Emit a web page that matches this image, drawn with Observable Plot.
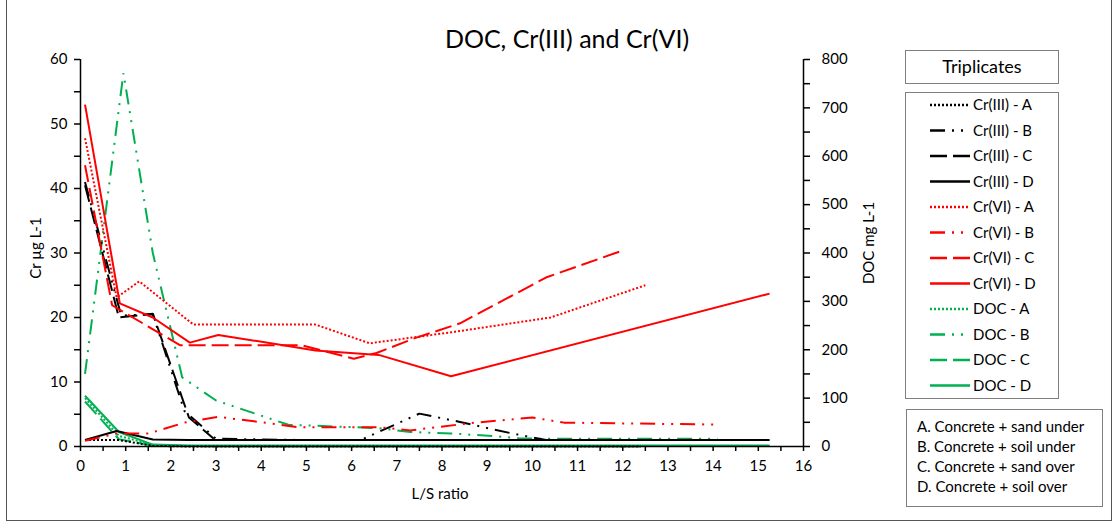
<!DOCTYPE html>
<html>
<head>
<meta charset="utf-8">
<script src="https://cdn.jsdelivr.net/npm/d3@7"></script>
<script src="https://cdn.jsdelivr.net/npm/@observablehq/plot@0.6"></script>
<style>
  body { margin: 0; background: #fff; }
  #wrap { position: relative; width: 1116px; height: 526px; font-family: Lato, "Noto Sans", sans-serif; color: #000; overflow: hidden; }
  #chart { position: absolute; left: 0; top: 0; }
  .abs { position: absolute; white-space: nowrap; }
  .box { position: absolute; border: 1.5px solid #7f7f7f; box-sizing: border-box; background: #fff; }
</style>
</head>
<body>
<div id="wrap">
  <div class="abs" style="left:6px;top:0;width:1106px;height:521px;border-left:1px solid #555;border-right:1px solid #555;border-bottom:1px solid #555;box-sizing:border-box;"></div>
  <div id="chart"></div>
  <div class="abs" id="title" style="left:367px;width:400px;top:23px;text-align:center;font-size:25px;">DOC, Cr(III) and Cr(VI)</div>
  <div class="abs" style="left:35px;top:248px;font-size:15px;transform:translate(-50%,-50%) rotate(-90deg);">Cr µg L-1</div>
  <div class="abs" style="left:868px;top:243px;font-size:15px;transform:translate(-50%,-50%) rotate(-90deg);">DOC mg L-1</div>
  <div class="abs" style="left:440px;top:493px;font-size:15px;transform:translate(-50%,-50%);">L/S ratio</div>
  <div class="box" style="left:905px;top:50px;width:154px;height:34px;text-align:center;font-size:18px;line-height:31px;">Triplicates</div>
  <div class="box" id="legbox" style="left:905px;top:92px;width:154px;height:307px;"></div>
  <div class="box" style="left:906px;top:409px;width:197px;height:98px;font-size:15px;">
    <div class="abs" style="left:10px;top:6px;line-height:20px;">A. Concrete + sand under<br>B. Concrete + soil under<br>C. Concrete + sand over<br>D. Concrete + soil over</div>
  </div>
</div>
<script>
// ---- data (L/S ratio, Cr in µg/L, DOC in mg/L) ----
const seriesNames = ["Cr(III) - A","Cr(III) - B","Cr(III) - C","Cr(III) - D","Cr(VI) - A","Cr(VI) - B","Cr(VI) - C","Cr(VI) - D","DOC - A","DOC - B","DOC - C","DOC - D"];

const lsCr3A = [0.1, 0.85, 1.6, 2.4, 3.0, 5.0, 6.5, 8.2, 10.3, 12.4];
const cr3A   = [1.0, 1.0, 0.1, 0.0, 0.0, 0.0, 0.0, 0.0, 0.0, 0.0];
const lsCr3B = [0.1, 0.9, 1.6, 2.3, 3.0, 5.0, 6.2, 7.5, 8.4, 9.5, 10.3, 12.3, 14.2];
const cr3B   = [41.0, 20.3, 20.5, 5.5, 1.2, 1.0, 1.0, 5.1, 3.8, 2.1, 1.0, 1.0, 1.0];
const lsCr3C = [0.1, 0.85, 1.6, 2.4, 2.95];
const cr3C   = [40.5, 20.0, 20.6, 4.5, 1.2];
const lsCr3D = [0.1, 0.8, 1.6, 2.4, 3.0, 5.0, 6.5, 8.2, 10.3, 12.3, 14.2, 15.25];
const cr3D   = [1.0, 2.4, 1.1, 1.0, 1.0, 1.0, 1.0, 1.0, 1.0, 1.0, 1.0, 1.0];

const lsCr6A = [0.1, 0.8, 1.3, 2.5, 5.2, 6.4, 8.2, 10.4, 12.5];
const cr6A   = [47.8, 23.1, 25.6, 18.9, 18.9, 16.0, 17.7, 20.0, 25.0];
const lsCr6B = [0.1, 0.8, 1.5, 2.3, 3.05, 4.3, 4.8, 6.6, 7.3, 8.6, 10.0, 10.7, 12.9, 14.15];
const cr6B   = [0.9, 2.0, 2.0, 3.7, 4.6, 3.5, 3.0, 3.0, 2.5, 3.6, 4.5, 3.7, 3.5, 3.4];
const lsCr6C = [0.1, 0.7, 2.2, 4.9, 6.05, 6.55, 7.4, 8.4, 10.3, 12.0];
const cr6C   = [43.6, 21.9, 15.7, 15.7, 13.6, 14.5, 16.8, 19.1, 26.2, 30.4];
const lsCr6D = [0.1, 0.87, 1.6, 2.42, 3.05, 5.2, 6.6, 8.2, 15.25];
const cr6D   = [53.0, 22.2, 20.0, 16.1, 17.3, 14.9, 14.2, 10.9, 23.7];

const lsDocA = [0.1, 0.85, 1.6, 2.4, 3.0, 5.0, 6.5, 8.2, 10.3, 12.4];
const docA   = [100, 22, 3, 1, 0.5, 0, 0, 0, 0, 0];
const lsDocB = [0.1, 0.95, 1.6, 2.25, 3.0, 4.6, 6.6, 7.3, 8.2, 9.2, 9.7, 10.3, 12.2, 14.1];
const docB   = [150, 772, 400, 143, 95, 45, 38, 30, 27, 21, 17, 16, 16, 16];
const lsDocC = [0.1, 0.85, 1.6, 2.4, 3.0, 5.0, 6.5, 8.2, 10.3, 12.3, 14.2];
const docC   = [93, 15, 2, 1, 1, 1, 1, 1, 1, 1, 1];
const lsDocD = [0.1, 0.85, 1.6, 2.4, 3.0, 5.0, 6.5, 8.2, 10.3, 12.3, 14.2, 15.25];
const docD   = [105, 30, 4, 2, 2, 2, 2, 2, 2, 2, 2, 2];

const leftTicks = [0, 10, 20, 30, 40, 50, 60];
const rightTicks = [0, 100, 200, 300, 400, 500, 600, 700, 800];
const xTicks = [0,1,2,3,4,5,6,7,8,9,10,11,12,13,14,15,16];

// ---- styles ----
const BLACK = "#000000", RED = "#ff0000", GREEN = "#00b050";
const DASH = {A: "2 2", B: "15 7 2 7 2 7", C: "17 6", D: null};
const docToCr = 60 / 800;

const series = [
  {name: seriesNames[0], ls: lsCr3A, v: cr3A, color: BLACK, dash: DASH.A, k: 1},
  {name: seriesNames[1], ls: lsCr3B, v: cr3B, color: BLACK, dash: DASH.B, k: 1},
  {name: seriesNames[2], ls: lsCr3C, v: cr3C, color: BLACK, dash: DASH.C, k: 1},
  {name: seriesNames[3], ls: lsCr3D, v: cr3D, color: BLACK, dash: DASH.D, k: 1},
  {name: seriesNames[4], ls: lsCr6A, v: cr6A, color: RED, dash: DASH.A, k: 1},
  {name: seriesNames[5], ls: lsCr6B, v: cr6B, color: RED, dash: DASH.B, k: 1},
  {name: seriesNames[6], ls: lsCr6C, v: cr6C, color: RED, dash: DASH.C, k: 1},
  {name: seriesNames[7], ls: lsCr6D, v: cr6D, color: RED, dash: DASH.D, k: 1},
  {name: seriesNames[8], ls: lsDocA, v: docA, color: GREEN, dash: DASH.A, k: docToCr},
  {name: seriesNames[9], ls: lsDocB, v: docB, color: GREEN, dash: DASH.B, k: docToCr},
  {name: seriesNames[10], ls: lsDocC, v: docC, color: GREEN, dash: DASH.C, k: docToCr},
  {name: seriesNames[11], ls: lsDocD, v: docD, color: GREEN, dash: DASH.D, k: docToCr}
];

// draw order: DOC first (behind), then Cr(III), then Cr(VI)
const order = [11, 10, 8, 9, 3, 0, 2, 1, 5, 4, 6, 7];

const lineMarks = order.map(i => {
  const s = series[i];
  const rows = s.ls.map((x, j) => ({x, y: s.v[j] * s.k}));
  const opts = {x: "x", y: "y", stroke: s.color, strokeWidth: 2, curve: "linear",
    strokeLinecap: "butt", strokeLinejoin: "miter"};
  if (s.dash) opts.strokeDasharray = s.dash;
  return Plot.line(rows, opts);
});

const minorY = d3.range(0, 60.001, 5);
const minorR = d3.range(0, 800.001, 50).map(d => d * docToCr);
const minorX = d3.range(0, 16.001, 0.5);

const chart = Plot.plot({
  width: 1116,
  height: 526,
  marginLeft: 80,
  marginRight: 313,
  marginTop: 59,
  marginBottom: 80,
  style: {fontFamily: "Lato, 'Noto Sans', sans-serif", fontSize: "15px", color: "#000", background: "transparent"},
  x: {domain: [0, 16]},
  y: {domain: [0, 60]},
  marks: [
    ...lineMarks,
    Plot.axisY(minorY, {anchor: "left", tickSize: 6, tickPadding: 7, strokeWidth: 1.5, label: null,
      tickFormat: d => leftTicks.includes(d) ? String(d) : "", fontSize: 15}),
    Plot.axisY(minorR, {anchor: "right", tickSize: 6, tickPadding: 12, strokeWidth: 1.5, label: null,
      tickFormat: d => { const v = Math.round(d / docToCr); return rightTicks.includes(v) ? String(v) : ""; }, fontSize: 15, textAnchor: "start"}),
    Plot.axisX(minorX, {anchor: "bottom", tickSize: 5, tickPadding: 9, strokeWidth: 1.5, label: null,
      tickFormat: d => xTicks.includes(d) ? String(d) : "", fontSize: 15}),
    Plot.ruleY([0], {stroke: BLACK, strokeWidth: 1.5}),
    Plot.ruleX([0], {stroke: BLACK, strokeWidth: 1.5}),
    Plot.ruleX([16], {stroke: BLACK, strokeWidth: 1.5})
  ]
});
document.getElementById("chart").appendChild(chart);

// ---- legend ----
const leg = d3.select("#legbox").append("svg")
  .attr("width", 151).attr("height", 304)
  .style("position", "absolute").style("left", "0px").style("top", "0px");
series.forEach((s, i) => {
  const y = 12 + i * 25.5;
  const ln = leg.append("line").attr("x1", 24).attr("x2", 64).attr("y1", y).attr("y2", y)
    .attr("stroke", s.color).attr("stroke-width", 2.5);
  if (s.dash) ln.attr("stroke-dasharray", s.dash);
  leg.append("text").attr("x", 67).attr("y", y).attr("dy", "0.35em")
    .attr("font-family", "Lato, 'Noto Sans', sans-serif").attr("font-size", 15).text(s.name);
});
</script>
</body>
</html>
